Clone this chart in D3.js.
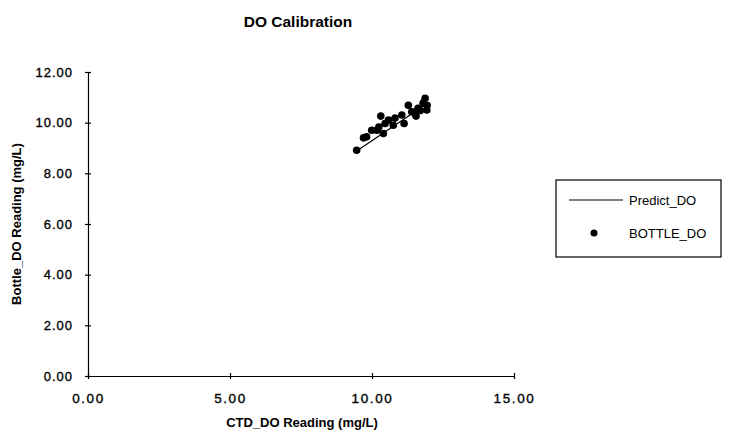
<!DOCTYPE html>
<html>
<head>
<meta charset="utf-8">
<script src="https://cdn.jsdelivr.net/npm/d3@7"></script>
<style>
  html, body { margin: 0; padding: 0; background: #fff; }
  svg { display: block; font-family: "Liberation Sans", Arial, sans-serif; }
</style>
</head>
<body>
<svg id="chart" width="735" height="445"></svg>
<script>
// CTD sensor readings vs. bottle (Winkler) readings, mg/L
const ctdDO = [9.46, 9.70, 9.81, 9.99, 10.17, 10.24, 10.31, 10.40, 10.46, 10.58, 10.75, 10.81,
               11.05, 11.13, 11.28, 11.40, 11.52, 11.55, 11.62, 11.70, 11.80, 11.87, 11.93, 11.94];
const bottleDO = [8.91, 9.40, 9.44, 9.70, 9.70, 9.83, 10.26, 9.57, 9.97, 10.10, 9.90, 10.18,
                  10.30, 9.97, 10.69, 10.43, 10.35, 10.26, 10.57, 10.48, 10.77, 10.96, 10.50, 10.69];

// Fitted calibration line end points
const predictX = [9.46, 11.94];
const predictY = [8.88, 10.76];

const xTicks = [0, 5, 10, 15];
const yTicks = [0, 2, 4, 6, 8, 10, 12];
const legendLabels = ["Predict_DO", "BOTTLE_DO"];

const svg = d3.select("#chart");
const x = d3.scaleLinear().domain([0, 15]).range([88, 514]);
const y = d3.scaleLinear().domain([0, 12]).range([376, 72]);
const fmt = d3.format(".2f");

// Title
svg.append("text")
  .attr("x", 298).attr("y", 27)
  .attr("text-anchor", "middle")
  .attr("font-size", 15.5).attr("font-weight", "bold")
  .text("DO Calibration");

// Axes
const xAxis = svg.append("g").attr("transform", `translate(0,${y(0)})`)
  .call(d3.axisBottom(x).tickValues(xTicks).tickFormat(fmt).tickSizeInner(6).tickSizeOuter(0));
xAxis.selectAll(".tick line").attr("y1", -3).attr("y2", 3);
xAxis.selectAll(".tick text").attr("y", 17).attr("dy", "0.71em")
  .attr("font-size", 13.5).attr("letter-spacing", 1.6).attr("font-family", null);

const yAxis = svg.append("g").attr("transform", `translate(${x(0)},0)`)
  .call(d3.axisLeft(y).tickValues(yTicks).tickFormat(fmt).tickSizeInner(6).tickSizeOuter(0));
yAxis.selectAll(".tick line").attr("x1", -3).attr("x2", 3);
yAxis.selectAll(".tick text").attr("x", -15)
  .attr("font-size", 13).attr("letter-spacing", 1).attr("font-family", null);

svg.selectAll(".domain, .tick line").attr("stroke", "#000").attr("stroke-width", 1.2);
// slightly heavier tick numerals
svg.selectAll(".tick text").attr("fill", "#000").attr("stroke", "#000").attr("stroke-width", 0.35);

// Axis titles
svg.append("text")
  .attr("x", 302).attr("y", 427)
  .attr("text-anchor", "middle")
  .attr("font-size", 13).attr("font-weight", "bold")
  .text("CTD_DO Reading (mg/L)");

svg.append("text")
  .attr("transform", "translate(21,224) rotate(-90)")
  .attr("text-anchor", "middle")
  .attr("font-size", 13).attr("font-weight", "bold")
  .text("Bottle_DO Reading (mg/L)");

// Calibration line
svg.append("path")
  .datum(predictX.map((v, i) => [v, predictY[i]]))
  .attr("fill", "none").attr("stroke", "#000").attr("stroke-width", 1.2)
  .attr("d", d3.line().x(d => x(d[0])).y(d => y(d[1])));

// Bottle samples
svg.append("g").selectAll("circle")
  .data(ctdDO.map((v, i) => [v, bottleDO[i]]))
  .join("circle")
  .attr("cx", d => x(d[0])).attr("cy", d => y(d[1]))
  .attr("r", 3.8).attr("fill", "#000");

// Legend
const legend = svg.append("g");
legend.append("rect")
  .attr("x", 556).attr("y", 180).attr("width", 165).attr("height", 77)
  .attr("fill", "#fff").attr("stroke", "#000").attr("stroke-width", 1.2);
legend.append("line")
  .attr("x1", 569).attr("x2", 623).attr("y1", 200).attr("y2", 200)
  .attr("stroke", "#000").attr("stroke-width", 1.2);
legend.append("circle").attr("cx", 594).attr("cy", 233).attr("r", 3.5).attr("fill", "#000");
legend.selectAll("text.lbl")
  .data(legendLabels)
  .join("text")
  .attr("class", "lbl")
  .attr("x", 629).attr("y", (d, i) => 200 + i * 33)
  .attr("dy", "0.35em")
  .attr("font-size", 13)
  .text(d => d);
</script>
</body>
</html>
